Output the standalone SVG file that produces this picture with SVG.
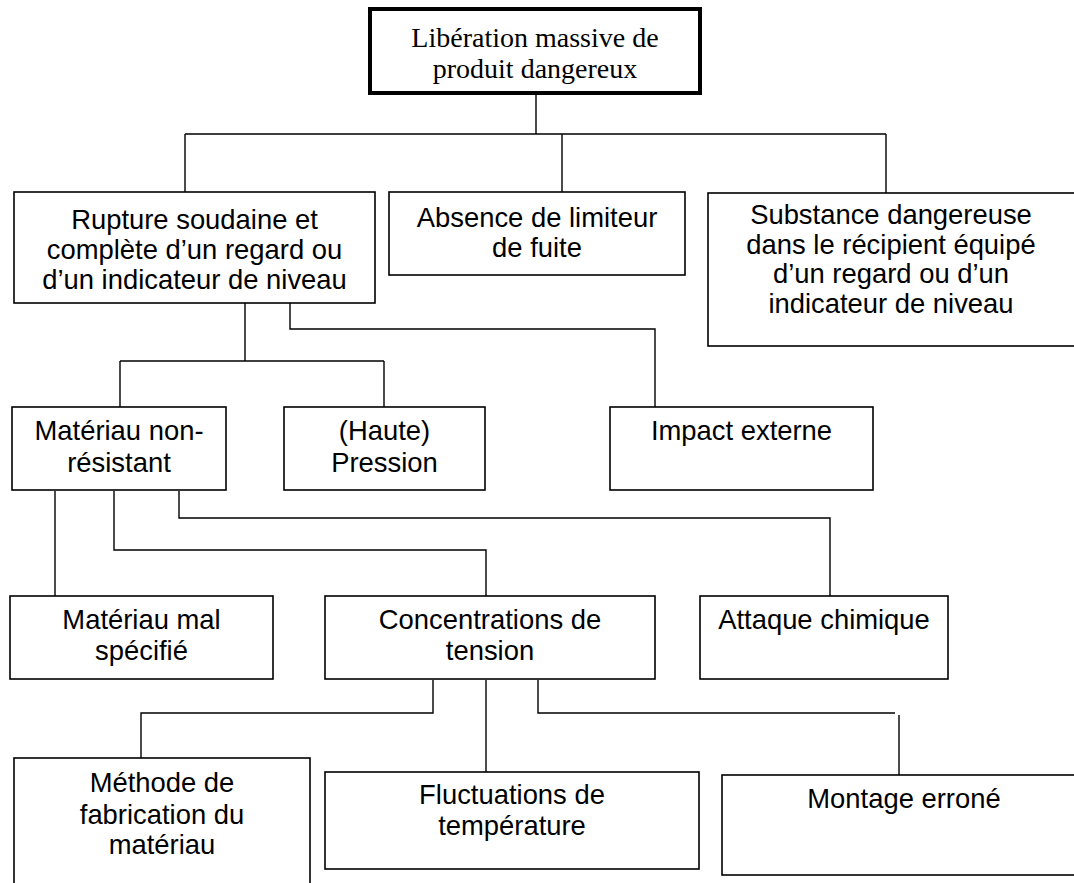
<svg xmlns="http://www.w3.org/2000/svg" width="1074" height="883" viewBox="0 0 1074 883">
<style>
.box{fill:#fff;stroke:#000;stroke-width:1.6}
.top{fill:#fff;stroke:#000;stroke-width:4}
.t{font-family:"Liberation Sans",Arial,sans-serif;font-size:27.4px;fill:#000;text-anchor:middle}
.s{font-family:"Liberation Serif","Times New Roman",serif;font-size:28px;fill:#000;text-anchor:middle}
.c{fill:none;stroke:#000;stroke-width:1.4}
</style>
<rect width="1074" height="883" fill="#fff"/>
<g id="connectors">
<path class="c" d="M536,93V134M185,134H886M185,134V192M562,134V192M886,134V193"/>
<path class="c" d="M245,303V361M120,361H384M120,361V407M384,361V407"/>
<path class="c" d="M290,303V329H655V407"/>
<path class="c" d="M55,491V596"/>
<path class="c" d="M114,491V550H486V596"/>
<path class="c" d="M179,491V518H830V596"/>
<path class="c" d="M433,680V713H141V770"/>
<path class="c" d="M486,680V772"/>
<path class="c" d="M538,680V713H895"/>
<path class="c" d="M899,715V775"/>
</g>
<g id="n-top">
<rect class="top" x="370" y="9" width="330" height="84"/>
<text class="s" x="535" y="47">Libération massive de</text>
<text class="s" x="535" y="78">produit dangereux</text>
</g>
<g id="n-rupture">
<rect class="box" x="14" y="192" width="361" height="111"/>
<text class="t" x="194.5" y="229">Rupture soudaine et</text>
<text class="t" x="194.5" y="259">complète d’un regard ou</text>
<text class="t" x="194.5" y="289">d’un indicateur de niveau</text>
</g>
<g id="n-absence">
<rect class="box" x="389" y="192" width="296" height="83"/>
<text class="t" x="537" y="227">Absence de limiteur</text>
<text class="t" x="537" y="257">de fuite</text>
</g>
<g id="n-substance">
<rect class="box" x="708" y="193" width="380" height="153"/>
<text class="t" x="891" y="224">Substance dangereuse</text>
<text class="t" x="891" y="253.5">dans le récipient équipé</text>
<text class="t" x="891" y="283">d’un regard ou d’un</text>
<text class="t" x="891" y="312.5">indicateur de niveau</text>
</g>
<g id="n-materiau">
<rect class="box" x="12" y="407" width="214" height="83"/>
<text class="t" x="119" y="440">Matériau non-</text>
<text class="t" x="119" y="472">résistant</text>
</g>
<g id="n-pression">
<rect class="box" x="284" y="407" width="201" height="83"/>
<text class="t" x="384.5" y="440">(Haute)</text>
<text class="t" x="384.5" y="472">Pression</text>
</g>
<g id="n-impact">
<rect class="box" x="610" y="407" width="263" height="83"/>
<text class="t" x="741.5" y="440">Impact externe</text>
</g>
<g id="n-malspecifie">
<rect class="box" x="10" y="596" width="263" height="83"/>
<text class="t" x="141.5" y="629">Matériau mal</text>
<text class="t" x="141.5" y="660">spécifié</text>
</g>
<g id="n-concentrations">
<rect class="box" x="325" y="596" width="330" height="83"/>
<text class="t" x="490" y="629">Concentrations de</text>
<text class="t" x="490" y="660">tension</text>
</g>
<g id="n-attaque">
<rect class="box" x="700" y="596" width="248" height="83"/>
<text class="t" x="824" y="629">Attaque chimique</text>
</g>
<g id="n-methode">
<rect class="box" x="14" y="758" width="296" height="140"/>
<text class="t" x="162" y="792">Méthode de</text>
<text class="t" x="162" y="824">fabrication du</text>
<text class="t" x="162" y="854">matériau</text>
</g>
<g id="n-fluctuations">
<rect class="box" x="325" y="772" width="374" height="97"/>
<text class="t" x="512" y="804">Fluctuations de</text>
<text class="t" x="512" y="835">température</text>
</g>
<g id="n-montage">
<rect class="box" x="722" y="775" width="366" height="100"/>
<text class="t" x="904" y="808">Montage erroné</text>
</g>
</svg>
